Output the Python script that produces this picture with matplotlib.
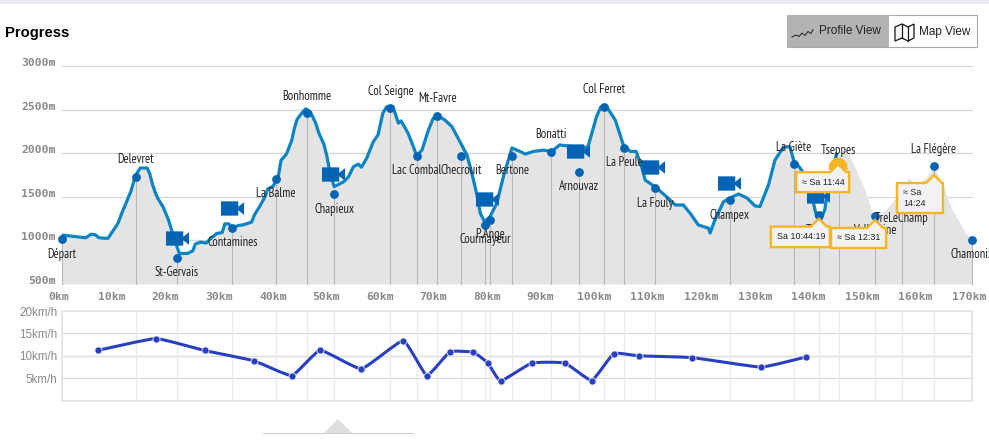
import matplotlib
matplotlib.use("Agg")
import matplotlib.pyplot as plt
from matplotlib import font_manager as fm
from matplotlib.patches import Polygon, Rectangle, PathPatch
from matplotlib.path import Path
from matplotlib.lines import Line2D

W, H = 989, 441

# Elevation profile of the course (km, metres)
profile_km = [0, 0.3, 3, 4.5, 5.5, 6.3, 7, 8, 8.7, 9.5, 10.5, 11.5, 12, 13, 13.5, 14, 14.7, 16, 16.5, 17,
              17.5, 18, 19, 20, 20.5, 21, 22, 23.5, 24.5, 25, 26, 27, 27.5, 28, 29, 30, 30.5, 31.2, 32, 33,
              34, 35.5, 36, 37, 38, 38.5, 39.5, 40, 40.5, 41, 42, 42.5, 43, 43.5, 44, 45, 45.6, 46.5, 47.5,
              48, 49, 49.5, 50, 50.9, 52.7, 53.6, 54.5, 55.4, 56, 57, 58.2, 59.1, 60, 60.7, 61.9, 62.9,
              63.4, 64.7, 65.7, 66.3, 67.3, 68.5, 69.4, 70.3, 71.6, 72.9, 74.4, 75.7, 76.6, 77.5, 78.2, 79,
              80, 81.3, 82.5, 84.1, 85.6, 86.6, 88.1, 90, 91.5, 93, 94.9, 97.4, 98.3, 99.9, 100.7, 101.8,
              103.4, 104.9, 106.2, 107.3, 108.3, 109, 110.8, 113, 114.6, 116.1, 117.4, 118.9, 120.8, 121.1,
              122, 123.6, 124.8, 126.4, 128, 129.5, 130.4, 132, 133.2, 134.8, 136, 136.7, 137.9, 139, 140,
              140.5, 141, 141.8, 142.5, 143, 143.5, 144, 144.7, 146.3, 148.1, 150, 151.2, 151.9, 153.9,
              156.4, 158.2, 159.5, 161.3, 162.9, 164.4, 166.3, 168.8, 170]
profile_m = [1010, 1060, 1040, 1030, 1070, 1065, 1030, 1025, 1025, 1100, 1190, 1350, 1420, 1570, 1680, 1760,
             1830, 1830, 1760, 1640, 1550, 1480, 1380, 1230, 1130, 1030, 850, 850, 880, 960, 980, 970, 1000,
             1030, 1080, 1090, 1190, 1190, 1150, 1170, 1180, 1210, 1290, 1390, 1500, 1590, 1620, 1680, 1740,
             1920, 1990, 2070, 2150, 2290, 2390, 2470, 2510, 2470, 2340, 2240, 2100, 1980, 1820, 1616, 1673,
             1730, 1845, 1875, 1840, 1945, 2130, 2210, 2460, 2530, 2530, 2345, 2370, 2230, 2075, 1970, 2035,
             2265, 2400, 2430, 2380, 2305, 2130, 1980, 1775, 1540, 1310, 1215, 1272, 1430, 1730, 2060, 2020,
             1990, 2020, 2035, 2020, 2095, 2080, 2060, 2075, 2420, 2530, 2530, 2380, 2095, 2020, 2020, 1845,
             1690, 1616, 1500, 1406, 1406, 1310, 1177, 1140, 1085, 1235, 1443, 1486, 1532, 1486, 1395, 1388,
             1635, 1920, 2070, 2075, 1920, 1830, 1730, 1550, 1400, 1270, 1240, 1350, 1550, 1700, 1800, 1990,
             2060, 1845, 1578, 1350, 1272, 1350, 1540, 1715, 1635, 1715, 1845, 1655, 1350, 1085, 1005]
covered_until_km = 144.7

# Checkpoints along the course
wp_names = ["Départ", "Delevret", "St-Gervais", "Contamines", "La Balme", "Bonhomme", "Chapieux", "Col Seigne",
            "Lac Combal", "Mt-Favre", "Checrouit", "Courmayeur", "P.Ange", "Bertone", "Bonatti", "Arnouvaz",
            "Col Ferret", "La Peule", "La Fouly", "Champex", "La Giète", "Trient", "Tseppes", "Vallorcine",
            "TreLeChamp", "La Flégère", "Chamonix"]
wp_km = [0, 13.9, 21.5, 31.9, 40, 45.8, 50.9, 61.4, 66.3, 70.2, 74.6, 79.1, 80, 84.1, 91.4, 96.6, 101.3, 105,
         110.8, 124.8, 136.7, 141.4, 145.1, 151.9, 156.9, 162.9, 170]
wp_m = [1012, 1730, 802, 1146, 1708, 2457, 1532, 2515, 1970, 2430, 1968, 1177, 1234, 1968, 2017, 1788, 2533,
        2063, 1600, 1463, 1876, 1290, 1840, 1280, 1420, 1853, 1005]
wp_label_above = ["Delevret", "Bonhomme", "Col Seigne", "Mt-Favre", "Bonatti", "Col Ferret", "La Giète",
                  "Tseppes", "La Flégère"]

# Webcam positions (km, metres)
cam_km = [21.6, 31.8, 50.7, 79.4, 96.4, 110.4, 124.6, 141.2]
cam_m = [1027, 1370, 1760, 1480, 2030, 1845, 1660, 1505]

# Speed per leg
speed_km = [6.9, 17.6, 26.7, 35.9, 43, 48.3, 56, 63.8, 68.2, 72.5, 76.9, 79.6, 82, 87.8, 94, 99, 103.1, 107.9,
            117.8, 130.6, 139]
speed_kmh = [11.25, 13.85, 11.2, 8.9, 5.6, 11.25, 7.1, 13.4, 5.6, 10.9, 10.8, 8.4, 4.4, 8.4, 8.4, 4.5, 10.5,
             10, 9.6, 7.5, 9.75]

elev_ticks = [500, 1000, 1500, 2000, 2500, 3000]
km_ticks = list(range(0, 171, 10))
speed_ticks = [5, 10, 15, 20]

# Estimated passage times with the position each one points at
callout_texts = ["≈ Sa 11:44", "Sa 10:44:19", "≈ Sa 12:31", "≈ Sa\n14:24"]
callout_km = [145.0, 141.4, 151.9, 162.9]
callout_m = [1840, 1290, 1280, 1853]

# Box geometry in pixels: left of anchor, below anchor, width, height, tip size
callout_boxes = [(-42, 5, 53, 20, 8), (-48, 11.5, 59, 20.5, 8), (-44, 12, 55, 20, 8), (-37, 17, 46, 30, 8)]

BLUE_LINE = "#0b84c4"
BLUE_DOT = "#0464b4"
FILL = "#e4e4e4"
GRID = "#d6d6d6"
TICK = "#8a8a8a"
YELLOW = "#f6b524"
SANS = "Liberation Sans"
MONO = "DejaVu Sans Mono"


def label_font():
    # Prefer the light cut of the condensed face for checkpoint names
    for entry in fm.fontManager.ttflist:
        lowered = entry.fname.lower()
        if entry.name == "Open Sans Condensed" and "light" in lowered and "italic" not in lowered:
            return fm.FontProperties(fname=entry.fname, size=9.0)
    return fm.FontProperties(family=["PT Sans Narrow", "Liberation Sans"], size=9.0)


LABEL_FONT = label_font()

fig = plt.figure(figsize=(W / 100, H / 100), dpi=100, facecolor="white")


def fx(x):
    return x / W


def fy(y):
    return 1 - y / H


def axes_px(x0, y0, x1, y1):
    return fig.add_axes([fx(x0), fy(y1), (x1 - x0) / W, (y1 - y0) / H])


def fig_poly(points, **kw):
    patch = Polygon([(fx(x), fy(y)) for x, y in points], closed=True, transform=fig.transFigure, **kw)
    fig.add_artist(patch)
    return patch


# --- page furniture ---------------------------------------------------------------------
fig.add_artist(Rectangle((0, fy(4)), 1, 4 / H, transform=fig.transFigure, fc="#e9ebf1", ec="none"))
fig.text(fx(5), fy(33), "Progress", family=SANS, weight="bold", fontsize=10.6, va="center", color="black")

fig.add_artist(Rectangle((fx(787), fy(46.5)), 190 / W, 31.5 / H, transform=fig.transFigure, fc="white",
                         ec="#aaaaaa", lw=0.8))
fig.add_artist(Rectangle((fx(787), fy(46.5)), 102 / W, 31.5 / H, transform=fig.transFigure, fc="#b3b3b3",
                         ec="none"))
fig.text(fx(819), fy(31.5), "Profile View", family=SANS, fontsize=8.5, va="center", color="#222222")
fig.text(fx(919), fy(31.5), "Map View", family=SANS, fontsize=8.5, va="center", color="#222222")
spark_x = [792, 796, 799, 802, 805, 808, 811, 813]
spark_y = [37, 35, 36.5, 33, 35.5, 31.5, 33.5, 29.5]
fig.add_artist(Line2D([fx(v) for v in spark_x], [fy(v) for v in spark_y], color="#222222", lw=0.7))
fig_poly([(895, 27), (902, 24), (908, 27), (914, 24), (914, 38), (908, 41), (902, 38), (895, 41)],
         fc="none", ec="#111111", lw=0.9)
for vx, top, bottom in [(902, 24, 38), (908, 27, 41)]:
    fig.add_artist(Line2D([fx(vx), fx(vx)], [fy(top), fy(bottom)], color="#111111", lw=0.9))

fig_poly([(324, 433), (338, 419), (352, 433)], fc="#dddddd", ec="none")
fig.add_artist(Line2D([fx(263), fx(413)], [fy(433.3), fy(433.3)], color="#cfcfcf", lw=0.8))

# --- elevation panel --------------------------------------------------------------------
ax = axes_px(61.5, 66, 972, 284)
ax.set_xlim(0, 170)
ax.set_ylim(500, 3000)
ax.axis("off")

for value in elev_ticks:
    if value > 500:
        ax.plot([0, 170], [value, value], color=GRID, lw=0.9, zorder=1, clip_on=False)
    ax.annotate(f"{value}m", (0, value), xytext=(-6, 3), textcoords="offset pixels", ha="right", va="center",
                family=MONO, weight="bold", fontsize=8.2, color=TICK, annotation_clip=False)
for value in km_ticks:
    ax.annotate(f"{value}km", (value, 500), xytext=(-3, -13), textcoords="offset pixels", ha="center",
                va="center", family=MONO, weight="bold", fontsize=8.2, color=TICK, annotation_clip=False)

ax.fill_between(profile_km, profile_m, 500, color=FILL, lw=0, zorder=2, clip_on=False)

for km, m in zip(wp_km, wp_m):
    ax.plot([km, km], [500, m], color="#b8b8b8", lw=0.8, zorder=3, clip_on=False)

done = [(k, m) for k, m in zip(profile_km, profile_m) if k <= covered_until_km]
ax.plot([p[0] for p in done], [p[1] for p in done], color=BLUE_LINE, lw=2.3, zorder=4, solid_joinstyle="round",
        clip_on=False)

ax.scatter(wp_km, wp_m, s=40, color=BLUE_DOT, lw=0, zorder=5, clip_on=False)

# Camera glyph: rounded body with a lens wedge on the right
cam_path = Path([(-1.0, -0.62), (0.5, -0.62), (0.5, -0.15), (1.0, -0.55), (1.0, 0.55), (0.5, 0.15), (0.5, 0.62),
                 (-1.0, 0.62), (-1.0, -0.62)],
                [Path.MOVETO] + [Path.LINETO] * 7 + [Path.CLOSEPOLY])
ax.scatter(cam_km, cam_m, s=275, marker=cam_path, color=BLUE_DOT, lw=0, zorder=6, clip_on=False)

for name, km, m in zip(wp_names, wp_km, wp_m):
    above = name in wp_label_above
    ax.annotate(name, (km, m), xytext=(0, 17 if above else -15), textcoords="offset pixels", ha="center",
                va="center", fontproperties=LABEL_FONT, color="#222222", zorder=7, annotation_clip=False)

# --- passage-time callouts ---------------------------------------------------------------
for text, km, m, (left, below, box_w, box_h, tip) in zip(callout_texts, callout_km, callout_m, callout_boxes):
    px, py = ax.transData.transform((km, m))
    py = H - py
    if km == callout_km[0]:
        # the runner's current position sits behind its own callout
        fig.add_artist(Polygon([(fx(px + 9.5 * c), fy(py + 9.5 * s)) for c, s in
                                [(-1, 0.3), (-0.95, -0.3), (-0.7, -0.7), (-0.3, -0.95), (0, -1), (0.3, -0.95),
                                 (0.7, -0.7), (0.95, -0.3), (1, 0.3)]],
                               closed=True, transform=fig.transFigure, fc=YELLOW, ec="none", zorder=15))
    box_l, box_t = px + left, py + below
    pts = [(box_l, box_t), (px - tip, box_t), (px, box_t - tip), (px + tip, box_t),
           (box_l + box_w, box_t), (box_l + box_w, box_t + box_h), (box_l, box_t + box_h)]
    fig_poly(pts, fc="#f2f2f2", ec=YELLOW, lw=1.7, zorder=20, joinstyle="miter")
    fig.text(fx(box_l + 6), fy(box_t + box_h / 2), text, family=SANS, fontsize=6.4, ha="left", va="center",
             color="#222222", zorder=21, linespacing=1.25)

# --- speed panel -------------------------------------------------------------------------
ax2 = axes_px(61.5, 311, 972, 400.7)
ax2.set_xlim(0, 170)
ax2.set_ylim(0, 20)
for side in ax2.spines.values():
    side.set_color("#e6e6e6")
    side.set_linewidth(1.4)
ax2.set_xticks([])
ax2.set_yticks(speed_ticks)
ax2.set_yticklabels([f"{v}km/h" for v in speed_ticks], family=SANS, fontsize=8.4, color=TICK)
ax2.tick_params(axis="y", length=0, pad=3)
for value in speed_ticks[:-1]:
    ax2.axhline(value, color="#dcdcdc", lw=1.0, zorder=1)
for km in wp_km[1:-1]:
    ax2.axvline(km, color="#ebebeb", lw=1.0, zorder=1)

# Gently rounded curve through the speed values
verts = [(speed_km[0], speed_kmh[0])]
codes = [Path.MOVETO]
n = len(speed_km)
for i in range(n - 1):
    p0 = (speed_km[max(i - 1, 0)], speed_kmh[max(i - 1, 0)])
    p1 = (speed_km[i], speed_kmh[i])
    p2 = (speed_km[i + 1], speed_kmh[i + 1])
    p3 = (speed_km[min(i + 2, n - 1)], speed_kmh[min(i + 2, n - 1)])
    t = 0.06
    verts += [(p1[0] + (p2[0] - p0[0]) * t, p1[1] + (p2[1] - p0[1]) * t),
              (p2[0] - (p3[0] - p1[0]) * t, p2[1] - (p3[1] - p1[1]) * t), p2]
    codes += [Path.CURVE4] * 3
ax2.add_patch(PathPatch(Path(verts, codes), fc="none", ec="#2a3fc0", lw=2.2, zorder=3))
ax2.scatter(speed_km, speed_kmh, s=26, color="#2a3fc0", edgecolors="#e8ecfa", linewidths=0.6, zorder=4)

fig.savefig("out.png", dpi=100, facecolor="white")
